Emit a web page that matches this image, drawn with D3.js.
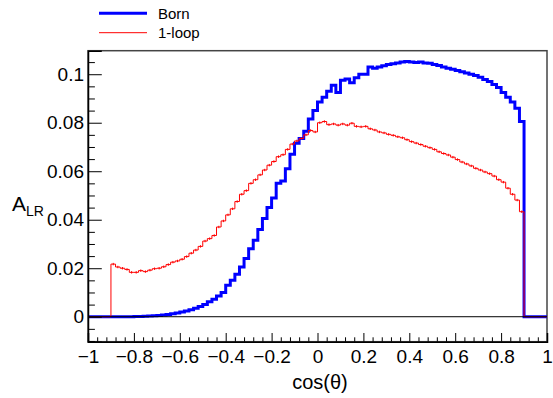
<!DOCTYPE html>
<html><head><meta charset="utf-8">
<script src="https://cdn.jsdelivr.net/npm/d3@7"></script>
<style>body{margin:0;background:#fff}svg{display:block}text{font-family:"Liberation Sans",Arial,Helvetica,sans-serif}</style>
</head><body><svg id="c" width="553" height="398"></svg>
<script>
// ---- data ----
const binEdges = [-1, 1];
const nBins = 100;
const xTicks = [-1, -0.8, -0.6, -0.4, -0.2, 0, 0.2, 0.4, 0.6, 0.8, 1];
const xTickLabels = ["\u22121", "\u22120.8", "\u22120.6", "\u22120.4", "\u22120.2", "0", "0.2", "0.4", "0.6", "0.8", "1"];
const yTicks = [0, 0.02, 0.04, 0.06, 0.08, 0.1];
const yTickLabels = ["0", "0.02", "0.04", "0.06", "0.08", "0.1"];
const seriesNames = ["Born", "1-loop"];

// Born: 100 bins from -1 to 1
const born = [
  0,0,0,0,0, 0,0,0,0,0,
  0.0001,0.0001,0.0002,0.0003,0.0004,
  0.0005,0.0007,0.0009,0.0012,0.0015,
  0.0019,0.0024,0.0029,0.0035,0.0042,
  0.0050,0.0062,0.0072,0.0085,0.0100,
  0.0130,0.0150,0.0175,0.0205,0.0240,
  0.0280,0.0315,0.0360,0.0405,0.0450,
  0.0490,0.0550,0.0560,0.0610,0.0670,
  0.0715,0.0735,0.0765,0.0815,0.0850,
  0.0885,0.0905,0.0930,0.0955,0.0925,
  0.0975,0.0980,0.0965,0.0985,0.1000,
  0.1000,0.1030,0.1025,0.1030,0.1035,
  0.1040,0.1043,0.1046,0.1050,0.1052,
  0.1050,0.1048,0.1050,0.1046,0.1045,
  0.1040,0.1036,0.1030,0.1025,0.1020,
  0.1015,0.1010,0.1005,0.1000,0.0995,
  0.0988,0.0978,0.0970,0.0958,0.0945,
  0.0925,0.0905,0.0885,0.0860,0.0805,
  0,0,0,0,0
];
// 1-loop: 100 bins from -1 to 1
const oneLoop = [
  0,0,0,0,0,
  0.0217,0.0205,0.0200,0.0195,0.0183,
  0.0183,0.0190,0.0186,0.0192,0.0198,
  0.0200,0.0206,0.0215,0.0225,0.0230,
  0.0237,0.0248,0.0262,0.0275,0.0290,
  0.0312,0.0322,0.0335,0.0370,0.0395,
  0.0420,0.0445,0.0475,0.0505,0.0520,
  0.0550,0.0565,0.0585,0.0605,0.0625,
  0.0640,0.0660,0.0668,0.0690,0.0712,
  0.0725,0.0735,0.0750,0.0768,0.0762,
  0.0800,0.0805,0.0792,0.0795,0.0790,
  0.0795,0.0790,0.0798,0.0785,0.0783,
  0.0785,0.0775,0.0770,0.0762,0.0758,
  0.0752,0.0748,0.0742,0.0738,0.0730,
  0.0722,0.0716,0.0710,0.0703,0.0697,
  0.0690,0.0680,0.0673,0.0667,0.0658,
  0.0648,0.0638,0.0630,0.0622,0.0612,
  0.0605,0.0597,0.0590,0.0580,0.0565,
  0.0555,0.0530,0.0505,0.0481,0.0433,
  0,0,0,0,0
];
const oneLoopErr = 0.0005;

// ---- layout ----
const L = 88, R = 547, T = 50.7, B = 341.7;
const svg = d3.select("#c");
const x = d3.scaleLinear().domain(binEdges).range([L, R]);
const y = d3.scaleLinear().domain([-0.0103, 0.1097]).range([B, T]);
const bw = (binEdges[1] - binEdges[0]) / nBins;

svg.append("defs").append("clipPath").attr("id", "clip")
  .append("rect").attr("x", L).attr("y", T).attr("width", R - L).attr("height", B - T);

function stepPath(vals) {
  const p = d3.path();
  vals.forEach((v, i) => {
    const x0 = x(binEdges[0] + i * bw), x1 = x(binEdges[0] + (i + 1) * bw);
    if (i === 0) p.moveTo(x0, y(v)); else p.lineTo(x0, y(v));
    p.lineTo(x1, y(v));
  });
  return p.toString();
}

// frame
svg.append("rect").attr("x", L).attr("y", T).attr("width", R - L).attr("height", B - T)
  .attr("fill", "none").attr("stroke", "#444").attr("stroke-width", 1.5);

const g = svg.append("g").attr("clip-path", "url(#clip)");
g.append("path").attr("d", stepPath(born)).attr("fill", "none")
  .attr("stroke", "#0000ff").attr("stroke-width", 3).attr("stroke-linejoin", "miter");
g.append("path").attr("d", stepPath(oneLoop)).attr("fill", "none")
  .attr("stroke", "#ff0000").attr("stroke-width", 1);
g.selectAll("line.err").data(oneLoop.map((v, i) => ({v, i})).filter(d => d.v !== 0))
  .enter().append("line")
  .attr("x1", d => x(binEdges[0] + (d.i + 0.5) * bw)).attr("x2", d => x(binEdges[0] + (d.i + 0.5) * bw))
  .attr("y1", d => y(d.v - oneLoopErr)).attr("y2", d => y(d.v + oneLoopErr))
  .attr("stroke", "#ff0000").attr("stroke-width", 1);
// zero line
g.append("line").attr("x1", L).attr("x2", R).attr("y1", y(0)).attr("y2", y(0))
  .attr("stroke", "#000").attr("stroke-width", 1);

// axes
const minorX = d3.range(-50, 51).map(k => k * 0.04).filter(v => v >= -1 && v <= 1 && Math.abs(Math.round(v * 5) - v * 5) > 1e-6);
const minorY = d3.range(-2, 23).map(k => k * 0.005).filter(v => v >= -0.0103 && v <= 0.1097 && Math.abs(Math.round(v * 50) - v * 50) > 1e-6);

const xa = svg.append("g").attr("transform", `translate(0,${B})`)
  .call(d3.axisBottom(x).tickValues(xTicks).tickSize(-8.7).tickPadding(8)
    .tickFormat((d, i) => xTickLabels[i]));
svg.append("g").attr("transform", `translate(0,${B})`)
  .call(d3.axisBottom(x).tickValues(minorX).tickSize(-4.4).tickFormat(""))
  .select(".domain").remove();
const ya = svg.append("g").attr("transform", `translate(${L},0)`)
  .call(d3.axisLeft(y).tickValues(yTicks).tickSize(-13.8).tickPadding(4)
    .tickFormat((d, i) => yTickLabels[i]));
svg.append("g").attr("transform", `translate(${L},0)`)
  .call(d3.axisLeft(y).tickValues(minorY).tickSize(-6.9).tickFormat(""))
  .select(".domain").remove();
svg.selectAll(".domain").attr("stroke", "#000").attr("stroke-width", 1.5);
svg.selectAll(".tick line").attr("stroke", "#000").attr("stroke-width", 1);
svg.selectAll(".tick text").attr("font-size", 19).attr("fill", "#000")
  .style("font-family", "'Liberation Sans', Arial, sans-serif");

// titles
svg.append("text").attr("x", 320).attr("y", 389).attr("text-anchor", "middle")
  .attr("font-size", 20).text("cos(\u03b8)");
const yt = svg.append("text").attr("x", 12).attr("y", 211).attr("font-size", 21);
yt.append("tspan").text("A");
yt.append("tspan").attr("font-size", 14).attr("dy", 5).text("LR");

// legend
const leg = [{name: seriesNames[0], color: "#0000ff", w: 3, y: 13.3}, {name: seriesNames[1], color: "#ff0000", w: 1, y: 32.7}];
leg.forEach(d => {
  svg.append("line").attr("x1", 99).attr("x2", 147).attr("y1", d.y).attr("y2", d.y)
    .attr("stroke", d.color).attr("stroke-width", d.w);
  svg.append("text").attr("x", 158).attr("y", d.y + 5.2).attr("font-size", 15).text(d.name);
});
</script></body></html>
